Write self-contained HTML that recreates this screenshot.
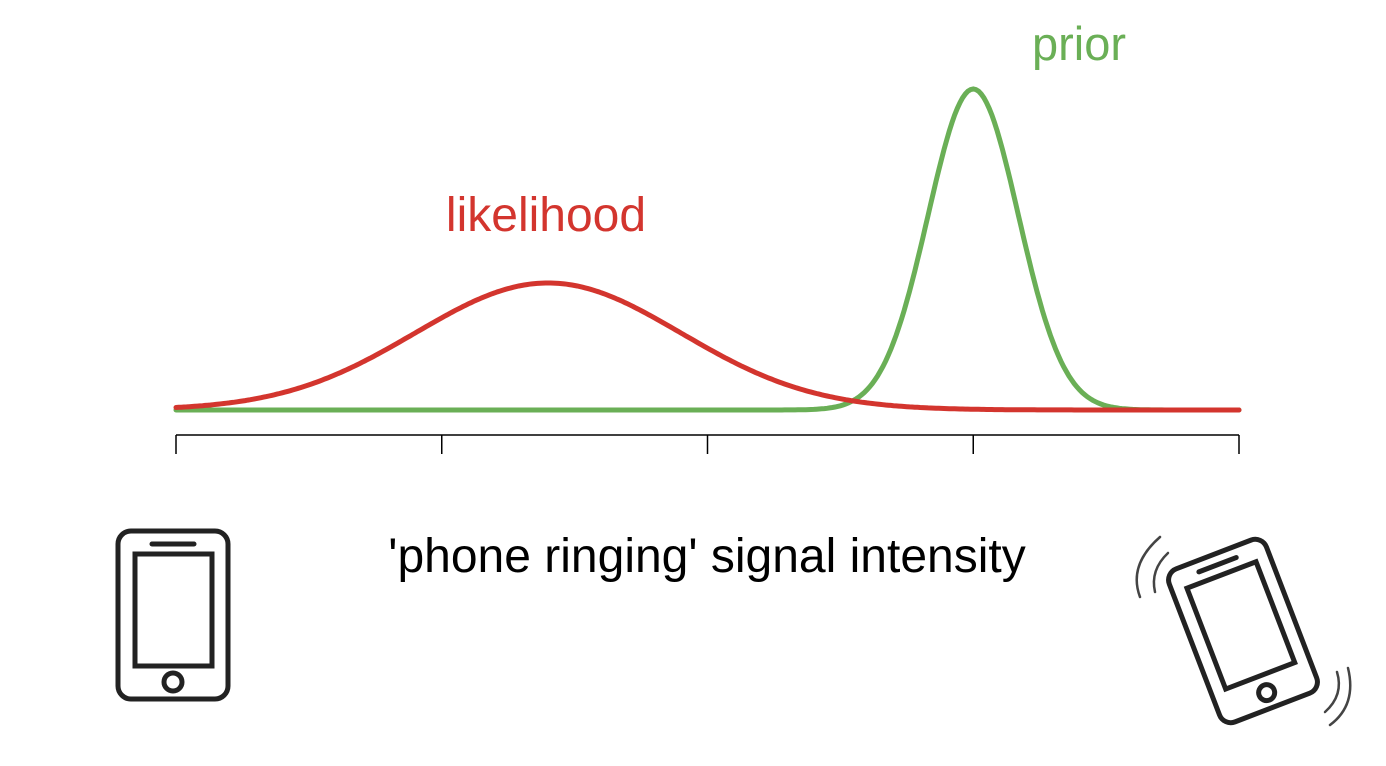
<!DOCTYPE html>
<html><head><meta charset="utf-8"><style>
html,body{margin:0;padding:0;background:#fff;}
svg{display:block;font-family:"Liberation Sans",Arial,sans-serif;}
</style></head><body>
<svg id="chart" width="1386" height="766" viewBox="0 0 1386 766">
<g id="axis"></g>
<g id="curves"></g>
<text x="1079" y="60" text-anchor="middle" font-size="47" fill="#6aaf56">prior</text>
<text x="546" y="231" text-anchor="middle" font-size="48" fill="#d3352e">likelihood</text>
<text x="707" y="572" text-anchor="middle" font-size="48" fill="#000">'phone ringing' signal intensity</text>
<g fill="none" stroke="#222" stroke-width="5">
  <rect x="118" y="531" width="110" height="168" rx="13"/>
  <rect x="135" y="554" width="77" height="112"/>
  <line x1="152" y1="544" x2="194" y2="544" stroke-linecap="round"/>
  <circle cx="173" cy="682" r="9"/>
</g>
<g fill="none" stroke="#222" stroke-width="5" transform="translate(1243,631) rotate(-21)">
  <rect x="-52" y="-82" width="104" height="164" rx="12"/>
  <rect x="-37" y="-60" width="74" height="108"/>
  <line x1="-20" y1="-71" x2="20" y2="-71" stroke-linecap="round"/>
  <circle cx="0" cy="66" r="8"/>
</g>
<g fill="none" stroke="#444" stroke-width="2.5" stroke-linecap="round">
  <path d="M1160 537 Q1128 565 1140 597"/>
  <path d="M1168 553 Q1150 570 1155 592"/>
  <path d="M1348 668 Q1357 705 1330 725"/>
  <path d="M1337 672 Q1344 695 1325 712"/>
</g>
</svg>
<script>
const ticks=[0,1,2,3,4];
const likelihoodParams=[1.4,0.5,127]; // mean, sd, peak height
const priorParams=[3.0,0.17,321];
const x0=176,x1=1239,baseY=410;
const xs=v=>x0+(v-ticks[0])/(ticks[ticks.length-1]-ticks[0])*(x1-x0);
const NS="http://www.w3.org/2000/svg";
const ax=document.getElementById('axis');
const line=document.createElementNS(NS,'line');


line.setAttribute('x1',xs(ticks[0]));line.setAttribute('x2',xs(ticks[ticks.length-1]));
line.setAttribute('y1',435);line.setAttribute('y2',435);
line.setAttribute('stroke','#000');line.setAttribute('stroke-width','1.5');
ax.appendChild(line);
ticks.forEach(t=>{
  const l=document.createElementNS(NS,'line');
  
  
  l.setAttribute('x1',xs(t));l.setAttribute('x2',xs(t));
  l.setAttribute('y1',435);l.setAttribute('y2',454);
  l.setAttribute('stroke','#000');l.setAttribute('stroke-width','1.5');
  ax.appendChild(l);
});
function curve(p){
  let d='';
  for(let i=0;i<=400;i++){
    const v=ticks[0]+(ticks[ticks.length-1]-ticks[0])*i/400;
    const y=baseY-p[2]*Math.exp(-0.5*Math.pow((v-p[0])/p[1],2));
    d+=(i?'L':'M')+xs(v).toFixed(1)+' '+y.toFixed(1);
  }
  return d;
}
const cg=document.getElementById('curves');
const pr=document.createElementNS(NS,'path');


pr.setAttribute('d',curve(priorParams));
pr.setAttribute('fill','none');pr.setAttribute('stroke','#6aaf56');pr.setAttribute('stroke-width','5');pr.setAttribute('stroke-linecap','round');
cg.appendChild(pr);
const lk=document.createElementNS(NS,'path');


lk.setAttribute('d',curve(likelihoodParams));
lk.setAttribute('fill','none');lk.setAttribute('stroke','#d3352e');lk.setAttribute('stroke-width','5');lk.setAttribute('stroke-linecap','round');
cg.appendChild(lk);
</script>
</body></html>
